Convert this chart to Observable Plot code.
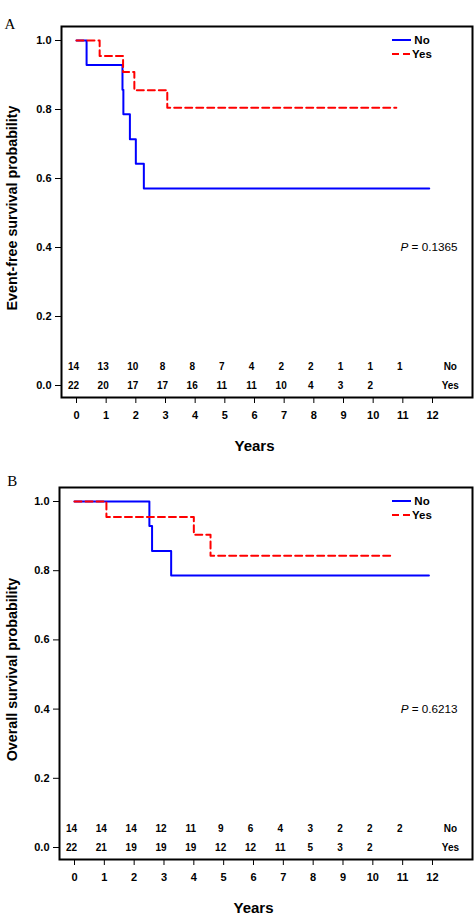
<!DOCTYPE html>
<html>
<head>
<meta charset="utf-8">
<script src="https://cdn.jsdelivr.net/npm/d3@7"></script>
<script src="https://cdn.jsdelivr.net/npm/@observablehq/plot@0.6"></script>
<style>
  html, body { margin: 0; padding: 0; background: white; }
  #chart svg { display: block; }
</style>
</head>
<body>
<div id="chart"></div>
<script>
// ---------- data ----------
const groups = ["No", "Yes"];
const groupColors = ["#0000FF", "#FF0000"];
const xTicks = [0, 1, 2, 3, 4, 5, 6, 7, 8, 9, 10, 11, 12];
const yTicks = [0, 0.2, 0.4, 0.6, 0.8, 1.0];

// Panel A: event-free survival
const efsNoTime = [0, 0.34, 1.55, 1.58, 1.8, 2.0, 2.27, 11.89];
const efsNoSurv = [1, 0.929, 0.857, 0.786, 0.714, 0.643, 0.571, 0.571];
const efsYesTime = [0, 0.78, 1.57, 1.95, 3.06, 10.78];
const efsYesSurv = [1, 0.955, 0.909, 0.856, 0.805, 0.805];
const efsRiskYears = [0, 1, 2, 3, 4, 5, 6, 7, 8, 9, 10, 11];
const efsRiskNo = [14, 13, 10, 8, 8, 7, 4, 2, 2, 1, 1, 1];
const efsRiskYes = [22, 20, 17, 17, 16, 11, 11, 10, 4, 3, 2];
const efsP = "P = 0.1365";

// Panel B: overall survival
const osNoTime = [0, 2.51, 2.6, 3.24, 11.88];
const osNoSurv = [1, 0.929, 0.857, 0.786, 0.786];
const osYesTime = [0, 1.07, 4.0, 4.56, 10.65];
const osYesSurv = [1, 0.955, 0.904, 0.843, 0.843];
const osRiskYears = [0, 1, 2, 3, 4, 5, 6, 7, 8, 9, 10, 11];
const osRiskNo = [14, 14, 14, 12, 11, 9, 6, 4, 3, 2, 2, 2];
const osRiskYes = [22, 21, 19, 19, 19, 12, 12, 11, 5, 3, 2];
const osP = "P = 0.6213";

// ---------- drawing ----------
const FONT = "'Liberation Sans', Arial, Helvetica, sans-serif";
const DASH = "7,4";

function legendMark() {
  return (index, scales, values, dims) => {
    const g = d3.create("svg:g");
    const xr = dims.width - dims.marginRight;
    const yt = dims.marginTop;
    groups.forEach((name, i) => {
      const y = yt + 14 + i * 14;
      g.append("line")
        .attr("x1", xr - 80).attr("x2", xr - 61)
        .attr("y1", y).attr("y2", y)
        .attr("stroke", groupColors[i])
        .attr("stroke-width", 2)
        .attr("stroke-dasharray", i === 1 ? DASH : null);
      g.append("text")
        .attr("x", xr - 50).attr("y", y).attr("dy", "0.35em")
        .attr("font-size", 11.5).attr("font-weight", "bold")
        .attr("font-family", FONT)
        .attr("fill", "black")
        .text(name);
    });
    return g.node();
  };
}

function panel(cfg) {
  const pxPerYear = cfg.pxPerYear;
  const width = 474, height = 462;
  const frameLeft = cfg.marginLeft, frameRight = 472;
  const y0px = 385, y1px = cfg.y1px; // pixel of 0.0 and 1.0
  const unit = y0px - y1px;
  const bottom = 397;
  const xDomain = [-(cfg.zeroPx - frameLeft) / pxPerYear, 12 + (frameRight - (cfg.zeroPx + 12 * pxPerYear)) / pxPerYear];
  const yDomain = [-(bottom - y0px) / unit, 1 + (y1px - cfg.marginTop) / unit];

  const curveNo = cfg.noTime.map((t, i) => ({t, s: cfg.noSurv[i]}));
  const curveYes = cfg.yesTime.map((t, i) => ({t, s: cfg.yesSurv[i]}));
  const riskNo = cfg.riskNo.map((n, i) => ({t: cfg.riskYears[i], n}));
  const riskYes = cfg.riskYes.map((n, i) => ({t: cfg.riskYears[i], n}));
  const rowNoY = 0.055, rowYesY = 0;

  const svg = Plot.plot({
    width, height,
    marginLeft: frameLeft, marginRight: width - frameRight,
    marginTop: cfg.marginTop, marginBottom: height - bottom,
    style: {fontFamily: FONT, fontSize: "11px", fontWeight: "bold", color: "black", background: "white"},
    x: {domain: xDomain},
    y: {domain: yDomain},
    marks: [
      Plot.axisX({ticks: xTicks, tickSize: 6, tickPadding: 8, label: null, fontSize: 11, fontWeight: "bold"}),
      Plot.axisY({ticks: yTicks, tickFormat: ".1f", tickSize: 6, tickPadding: 4, label: null, fontSize: 11, fontWeight: "bold"}),
      Plot.line(curveNo, {x: "t", y: "s", curve: "step-after", stroke: groupColors[0], strokeWidth: 2}),
      Plot.line(curveYes, {x: "t", y: "s", curve: "step-after", stroke: groupColors[1], strokeWidth: 2, strokeDasharray: DASH}),
      Plot.text(riskNo, {x: "t", y: () => rowNoY, text: "n", dx: -3, fontSize: 10, fontWeight: "bold", lineAnchor: "middle"}),
      Plot.text(riskYes, {x: "t", y: () => rowYesY, text: "n", dx: -3, fontSize: 10, fontWeight: "bold", lineAnchor: "middle"}),
      Plot.text(groups, {x: () => 12.6, y: (d, i) => i === 0 ? rowNoY : rowYesY, text: d => d, fontSize: 10, fontWeight: "bold", lineAnchor: "middle"}),
      Plot.text([cfg.pText], {x: () => 12.84, y: () => 0.4, text: d => d, textAnchor: "end", lineAnchor: "middle", fontSize: 11.7, fontWeight: "normal"}),
      Plot.text(["Years"], {x: () => 6, frameAnchor: "bottom", dy: 49, text: d => d, fontSize: 15, fontWeight: "bold", lineAnchor: "middle"}),
      Plot.text([cfg.yLabel], {frameAnchor: "left", dx: 16 - frameLeft, dy: cfg.yLabelDy, rotate: -90, text: d => d, fontSize: 14.3, fontWeight: "bold", lineAnchor: "bottom", textAnchor: "middle"}),
      Plot.text([cfg.letter], {frameAnchor: "top-left", dx: cfg.letterX - frameLeft, dy: cfg.letterBase - cfg.marginTop, text: d => d, textAnchor: "start", lineAnchor: "bottom", fontSize: 15, fontWeight: "normal", fontFamily: "'Liberation Serif', 'Times New Roman', serif"}),
      legendMark(),
      Plot.frame({stroke: "black", strokeWidth: 2})
    ]
  });

  // italic P in the p-value label
  d3.select(svg).selectAll("text").each(function () {
    if (this.textContent === cfg.pText) {
      const rest = cfg.pText.slice(1);
      this.textContent = "";
      d3.select(this).append("tspan").attr("font-style", "italic").text(cfg.pText[0]);
      d3.select(this).append("tspan").text(rest);
    }
  });
  return svg;
}

const chart = document.getElementById("chart");
chart.appendChild(panel({
  letter: "A", letterX: 4, letterBase: 28.3,
  yLabel: "Event-free survival probability", yLabelDy: -4,
  marginLeft: 61, marginTop: 26, zeroPx: 76, pxPerYear: 29.667, y1px: 40,
  noTime: efsNoTime, noSurv: efsNoSurv, yesTime: efsYesTime, yesSurv: efsYesSurv,
  riskYears: efsRiskYears, riskNo: efsRiskNo, riskYes: efsRiskYes, pText: efsP
}));
chart.appendChild(panel({
  letter: "B", letterX: 6.7, letterBase: 23,
  yLabel: "Overall survival probability", yLabelDy: -4,
  marginLeft: 59, marginTop: 25, zeroPx: 74, pxPerYear: 29.833, y1px: 39,
  noTime: osNoTime, noSurv: osNoSurv, yesTime: osYesTime, yesSurv: osYesSurv,
  riskYears: osRiskYears, riskNo: osRiskNo, riskYes: osRiskYes, pText: osP
}));
</script>
</body>
</html>
